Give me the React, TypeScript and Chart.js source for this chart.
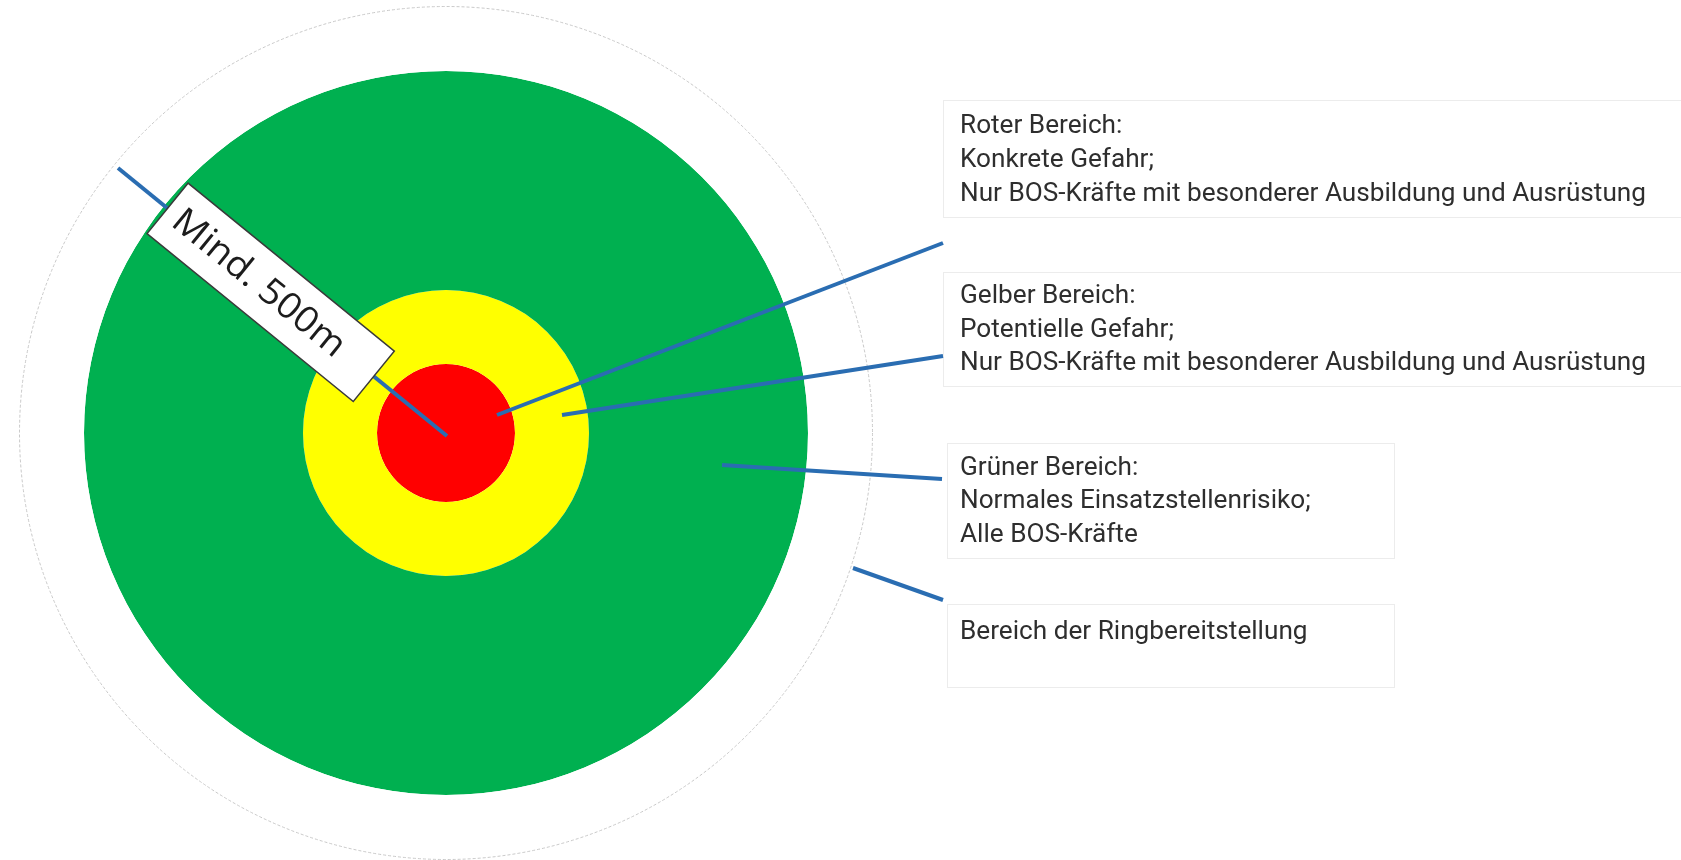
import React, { useEffect, useRef } from 'react';
import { Chart, registerables } from 'chart.js';

Chart.register(...registerables);

// ---------------- data ----------------
const zoneNames = ['Bereich der Ringbereitstellung', 'Grüner Bereich', 'Gelber Bereich', 'Roter Bereich'];
// ring thickness of each zone, outermost first (relative units)
const zoneRingWidths = [65, 219, 74, 69];
const zoneColors = ['#ffffff', '#00B050', '#FFFF00', '#FF0000'];

const redLines = ['Roter Bereich:', 'Konkrete Gefahr;', 'Nur BOS-Kräfte mit besonderer Ausbildung und Ausrüstung'];
const yellowLines = ['Gelber Bereich:', 'Potentielle Gefahr;', 'Nur BOS-Kräfte mit besonderer Ausbildung und Ausrüstung'];
const greenLines = ['Grüner Bereich:', 'Normales Einsatzstellenrisiko;', 'Alle BOS-Kräfte'];
const ringLines = ['Bereich der Ringbereitstellung'];
const radiusLabel = 'Mind. 500m';

// ---------------- layout ----------------
const W = 1681;
const H = 860;
const CENTER_X = 446;
const CENTER_Y = 433;
const RADIUS = 427;
const LINE_COLOR = '#2A6DB2';
const TEXT_COLOR = '#2e2e2e';
const TEXT_FONT = '"Roboto", "Noto Sans", sans-serif';
const TEXT_SIZE = 26;
const LONGEST_LINE_WIDTH = 686;
const TEXT_X = 960;

const textBlocks = [
  { lines: redLines, box: [943, 100, 738, 117], baselines: [133, 167, 201] },
  { lines: yellowLines, box: [943, 272, 738, 114], baselines: [303, 337, 370] },
  { lines: greenLines, box: [947, 443, 447, 115], baselines: [475, 508, 542] },
  { lines: ringLines, box: [947, 604, 447, 83], baselines: [639] },
];

// callouts: start offset relative to the circle centre, end in page pixels
const callouts = [
  { from: [51, -18], to: [943, 243] },
  { from: [116, -18], to: [943, 356] },
  { from: [276, 32], to: [942, 479] },
  { from: [407, 135], to: [943, 600] },
];

const radiusStart = [-328, -265];
const radiusEnd = [1, 3];
const labelCenterT = 0.464; // position along the radius line
const labelBox = { w: 266, h: 65, padX: 12, textWidth: 212 };

const annotationPlugin = {
  id: 'zoneAnnotations',
  afterDraw(chart: any) {
    const ctx: CanvasRenderingContext2D = chart.ctx;
    const arc: any = chart.getDatasetMeta(0).data[0];
    if (!arc) return;
    const cx = arc.x;
    const cy = arc.y;
    const R = arc.outerRadius;
    ctx.save();

    // faint outline of the outer ring
    ctx.beginPath();
    ctx.arc(cx, cy, R - 0.5, 0, Math.PI * 2);
    ctx.strokeStyle = '#c9c9c9';
    ctx.lineWidth = 1;
    ctx.setLineDash([3, 2]);
    ctx.stroke();
    ctx.setLineDash([]);

    // text boxes
    ctx.font = `${TEXT_SIZE}px ${TEXT_FONT}`;
    const longest = ctx.measureText(redLines[2]).width;
    const sx = LONGEST_LINE_WIDTH / longest;
    textBlocks.forEach((b) => {
      const [bx, by, bw, bh] = b.box;
      ctx.strokeStyle = '#ececec';
      ctx.lineWidth = 1;
      ctx.strokeRect(bx + 0.5, by + 0.5, bw, bh);
      ctx.fillStyle = TEXT_COLOR;
      ctx.textBaseline = 'alphabetic';
      ctx.textAlign = 'left';
      b.lines.forEach((line, i) => {
        ctx.save();
        ctx.translate(TEXT_X, b.baselines[i]);
        ctx.scale(sx, 1);
        ctx.fillText(line, 0, 0);
        ctx.restore();
      });
    });

    // callout lines
    ctx.strokeStyle = LINE_COLOR;
    ctx.lineWidth = 4;
    ctx.lineCap = 'butt';
    callouts.forEach((c) => {
      ctx.beginPath();
      ctx.moveTo(cx + c.from[0], cy + c.from[1]);
      ctx.lineTo(c.to[0], c.to[1]);
      ctx.stroke();
    });

    // radius line
    const x0 = cx + radiusStart[0];
    const y0 = cy + radiusStart[1];
    const x1 = cx + radiusEnd[0];
    const y1 = cy + radiusEnd[1];
    ctx.beginPath();
    ctx.moveTo(x0, y0);
    ctx.lineTo(x1, y1);
    ctx.stroke();

    // rotated label box
    const ang = Math.atan2(y1 - y0, x1 - x0);
    const lx = x0 + (x1 - x0) * labelCenterT;
    const ly = y0 + (y1 - y0) * labelCenterT;
    ctx.translate(lx, ly);
    ctx.rotate(ang);
    ctx.fillStyle = '#ffffff';
    ctx.fillRect(-labelBox.w / 2, -labelBox.h / 2, labelBox.w, labelBox.h);
    ctx.strokeStyle = '#3a3a3a';
    ctx.lineWidth = 1.5;
    ctx.strokeRect(-labelBox.w / 2, -labelBox.h / 2, labelBox.w, labelBox.h);
    ctx.font = `36px "Open Sans", "Noto Sans", sans-serif`;
    const lw = ctx.measureText(radiusLabel).width;
    const lsx = labelBox.textWidth / lw;
    ctx.fillStyle = '#1c1c1c';
    ctx.textBaseline = 'middle';
    ctx.textAlign = 'left';
    ctx.save();
    ctx.translate(-labelBox.w / 2 + labelBox.padX, 1);
    ctx.scale(lsx, 1);
    ctx.fillText(radiusLabel, 0, 0);
    ctx.restore();

    ctx.restore();
  },
};

export default function App() {
  const ref = useRef<HTMLCanvasElement | null>(null);
  useEffect(() => {
    if (!ref.current) return;
    const chart = new Chart(ref.current, {
      type: 'pie',
      data: {
        labels: ['zone'],
        datasets: zoneNames.map((name, i) => ({
          label: name,
          data: [1],
          weight: zoneRingWidths[i],
          backgroundColor: [zoneColors[i]],
          borderWidth: 0,
        })) as any,
      },
      options: {
        responsive: false,
        animation: false,
        events: [],
        layout: {
          padding: {
            left: CENTER_X - RADIUS,
            top: CENTER_Y - RADIUS,
            right: W - (CENTER_X + RADIUS),
            bottom: H - (CENTER_Y + RADIUS),
          },
        },
        plugins: {
          legend: { display: false },
          tooltip: { enabled: false },
        },
      } as any,
      plugins: [annotationPlugin],
    });
    return () => chart.destroy();
  }, []);

  return (
    <div style={{ position: 'absolute', left: 0, top: 0, width: W, height: H, background: '#ffffff' }}>
      <canvas ref={ref} width={W} height={H} style={{ display: 'block', width: W, height: H }} />
    </div>
  );
}
